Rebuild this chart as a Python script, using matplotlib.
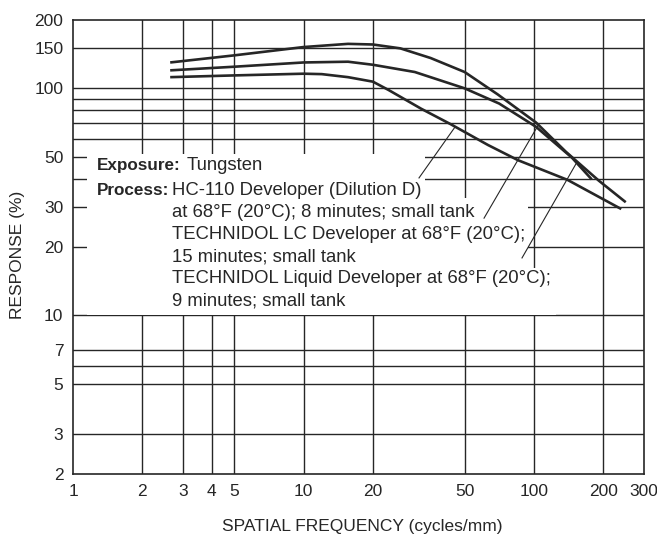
import matplotlib
matplotlib.use("Agg")
import matplotlib.pyplot as plt
from matplotlib.patches import Rectangle

# MTF curves: spatial frequency (cycles/mm) -> response (%)
hc110_freq = [2.64, 5, 10, 12, 15.6, 20, 23.4, 32.4, 43.5, 63.1, 85.4, 139.8, 239]
hc110_resp = [112, 114, 116, 115.5, 112, 107, 98.3, 81.3, 69.5, 56.3, 48.2, 39.5, 29.4]

lc_freq = [2.64, 5, 10, 15.6, 20, 30.4, 50, 70.6, 102, 146, 178]
lc_resp = [120, 124.5, 130, 131, 127, 118, 100, 85.7, 67.7, 49.5, 39.7]

liquid_freq = [2.64, 5, 10, 15.6, 20, 26.3, 35.6, 50, 69.6, 102, 137.6, 191, 250]
liquid_resp = [130, 139.7, 152, 157, 156, 150, 136, 118, 94, 70.7, 52.5, 39.2, 31.5]

x_ticks = [1, 2, 3, 4, 5, 10, 20, 50, 100, 200, 300]
x_grid = [2, 3, 4, 5, 10, 20, 50, 100, 200]
y_ticks = [2, 3, 5, 7, 10, 20, 30, 50, 100, 150, 200]
y_grid = [3, 5, 6, 7, 10, 20, 30, 40, 50, 60, 70, 80, 90, 100, 150]

process_lines = [
    "HC-110 Developer (Dilution D)",
    "at 68°F (20°C); 8 minutes; small tank",
    "TECHNIDOL LC Developer at 68°F (20°C);",
    "15 minutes; small tank",
    "TECHNIDOL Liquid Developer at 68°F (20°C);",
    "9 minutes; small tank",
]

INK = "#262626"
plt.rcParams["font.family"] = ["Liberation Sans", "DejaVu Sans"]

W, H = 657, 544
L, R, T, B = 73, 644, 20, 474

fig = plt.figure(figsize=(W / 100, H / 100), dpi=100)
ax = fig.add_axes([L / W, 1 - B / H, (R - L) / W, (B - T) / H])
ax.set_xscale("log")
ax.set_yscale("log")
ax.set_xlim(1, 300)
ax.set_ylim(2, 200)


def frac(px, py):
    # page pixel -> axes fraction
    return (px - L) / (R - L), (B - py) / (B - T)


for v in x_grid:
    ax.axvline(v, color=INK, lw=1.0, zorder=1)
for v in y_grid:
    ax.axhline(v, color=INK, lw=1.0, zorder=1)

# white block behind the caption, breaking the grid
for x0, x1, y0, y1 in [(87, 425, 154, 198), (87, 528, 198, 270), (87, 556, 268, 315)]:
    fx0, fy1 = frac(x0, y0)
    fx1, fy0 = frac(x1, y1)
    ax.add_patch(Rectangle((fx0, fy0), fx1 - fx0, fy1 - fy0, transform=ax.transAxes,
                           facecolor="white", edgecolor="none", zorder=2))

for xs, ys in [(hc110_freq, hc110_resp), (lc_freq, lc_resp), (liquid_freq, liquid_resp)]:
    ax.plot(xs, ys, color=INK, lw=1.9, zorder=3, solid_capstyle="butt",
            solid_joinstyle="round")

# leader lines from the caption to the curves
for (x0, y0), (x1, y1) in [((31.7, 40.3), (45.4, 67.5)),
                           ((60.7, 26.8), (104, 68.5)),
                           ((88.7, 17.9), (153, 47))]:
    ax.plot([x0, x1], [y0, y1], color=INK, lw=0.8, zorder=4)

fs = 13.3
ax.text(*frac(97, 170), "Exposure:", transform=ax.transAxes, fontsize=12.3,
        fontweight="bold", va="baseline", color=INK, zorder=5)
ax.text(*frac(187, 170), "Tungsten", transform=ax.transAxes, fontsize=fs,
        va="baseline", color=INK, zorder=5)
ax.text(*frac(97, 195), "Process:", transform=ax.transAxes, fontsize=12.3,
        fontweight="bold", va="baseline", color=INK, zorder=5)
for line, py in zip(process_lines, [195, 217, 239, 261, 283, 305]):
    ax.text(*frac(172, py), line, transform=ax.transAxes, fontsize=fs,
            va="baseline", color=INK, zorder=5)

ax.set_xticks(x_ticks)
ax.set_xticklabels([str(v) for v in x_ticks])
ax.set_yticks(y_ticks)
ax.set_yticklabels([str(v) for v in y_ticks])
ax.minorticks_off()
ax.tick_params(length=0, labelsize=12.5, colors=INK, pad=7)
for s in ax.spines.values():
    s.set_color(INK)
    s.set_linewidth(1.2)

fig.text(362 / W, 1 - 527 / H, "SPATIAL FREQUENCY (cycles/mm)", fontsize=12.5,
         color=INK, ha="center", va="center")
fig.text(18 / W, 1 - 255 / H, "RESPONSE (%)", fontsize=12.5, color=INK,
         rotation=90, ha="center", va="center")

fig.savefig("out.png", dpi=100, facecolor="white")
